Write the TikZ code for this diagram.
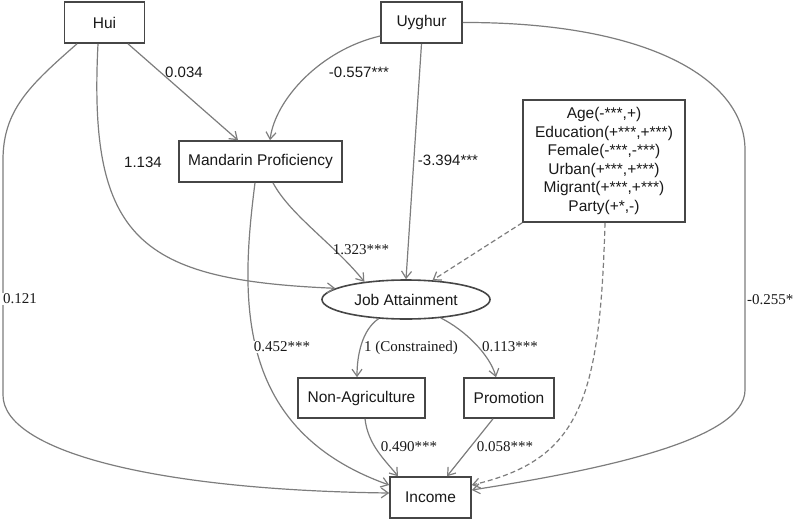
\documentclass[tikz,border=0pt]{standalone}
\usepackage{fontspec}
\setmainfont{Liberation Serif}
\newfontfamily\arialf{Liberation Sans}
\usetikzlibrary{arrows.meta,shapes.geometric}
\definecolor{boxc}{RGB}{70,70,70}
\definecolor{edgec}{RGB}{125,125,125}
\definecolor{txt}{RGB}{25,25,25}
\begin{document}
\begin{tikzpicture}[x=1pt,y=-1pt,
  box/.style={draw=boxc, line width=1.6pt, fill=white, text=txt, font=\arialf\fontsize{15.5}{18.5}\selectfont, inner sep=0pt, minimum height=41pt, align=center},
  oval/.style={box, ellipse, minimum height=39pt},
  edge/.style={draw=edgec, line width=1.2pt, -{Straight Barb[length=7pt,width=10pt]}},
  dashededge/.style={edge, dash pattern=on 5pt off 3pt},
  lab/.style={text=txt, font=\fontsize{15}{18}\selectfont, inner sep=1pt},
  slab/.style={lab, font=\arialf\fontsize{15}{18}\selectfont},
  wlab/.style={lab, fill=white}
]
\useasboundingbox (0,0) rectangle (799,519);

% nodes
\node[box, minimum width=80pt] (hui) at (104.5,22.5) {Hui};
\node[box, minimum width=81pt] (uy) at (421.5,22.5) {Uyghur};
\node[box, minimum width=163pt] (mand) at (260.5,161.5) {Mandarin Proficiency};
\node[box, minimum width=162pt, minimum height=122pt] (ctrl) at (604,161)
  {Age(-***,+)\\Education(+***,+***)\\Female(-***,-***)\\Urban(+***,+***)\\Migrant(+***,+***)\\Party(+*,-)};
\node[oval, minimum width=168pt] (job) at (406,299.5) {Job Attainment};
\node[box, minimum width=127pt, minimum height=40pt] (nonag) at (361.5,398) {Non-Agriculture};
\node[box, minimum width=90pt, minimum height=40pt] (promo) at (509,398) {Promotion};
\node[box, minimum width=81pt] (inc) at (430.5,497.5) {Income};

% edges
\draw[edge] ([xshift=-27.5pt]hui.south) .. controls (30,85) and (3,110) .. (3,160)
  -- (3,395) .. controls (3,450) and (150,490) .. ([yshift=4.5pt]inc.west);
\draw[edge] ([xshift=-6.5pt]hui.south) .. controls (88,240) and (140,280) .. (job.171);
\draw[edge] ([xshift=23.5pt]hui.south) -- ([xshift=-22.5pt]mand.north);
\draw[edge] ([yshift=-13.5pt]uy.west) .. controls (320,50) and (275,100) .. ([xshift=9.5pt]mand.north);
\draw[edge] (uy.south) -- (job.north);
\draw[edge] (uy.east) .. controls (650,22) and (745,80) .. (745,150)
  -- (745,390) .. controls (745,440) and (600,470) .. ([yshift=7.5pt]inc.east);
\draw[edge] ([xshift=12.5pt]mand.south) .. controls (290,215) and (335,245) .. (job.157);
\draw[edge] ([xshift=-5.5pt]mand.south) .. controls (240,300) and (235,430) .. ([yshift=12.5pt]inc.west);
\draw[dashededge] (ctrl.south west) -- (job.36);
\draw[dashededge] ([xshift=1pt]ctrl.south) .. controls (600,400) and (580,460) .. ([yshift=12.5pt]inc.east);
\draw[edge] (job.-145) .. controls (362,330) and (357,355) .. ([xshift=-4.5pt]nonag.north);
\draw[edge] (job.-28.5) .. controls (465,330) and (490,355) .. ([xshift=-13pt]promo.north);
\draw[edge] ([xshift=3.5pt]nonag.south) .. controls (368,445) and (385,460) .. ([xshift=-32.5pt]inc.north);
\draw[edge] ([xshift=-16pt]promo.south) -- ([xshift=16.5pt]inc.north);

% labels
\node[slab] (l1) at (184,72) {0.034};
\node[slab] (l2) at (359,72) {-0.557***};
\node[slab] (l3) at (143,162) {1.134};
\node[slab] (l4) at (448,160) {-3.394***};
\node[wlab, anchor=west] (l5) at (2,299) {0.121};
\node[lab] (l6) at (361,250) {1.323***};
\node[wlab] (l7) at (282,347) {0.452***};
\node[lab] (l8) at (411,348) {1 (Constrained)};
\node[lab] (l9) at (510,347) {0.113***};
\node[lab] (l10) at (409,447) {0.490***};
\node[lab] (l11) at (505,447) {0.058***};
\node[wlab, anchor=west] (l12) at (746,300) {-0.255*};
\end{tikzpicture}
\end{document}
